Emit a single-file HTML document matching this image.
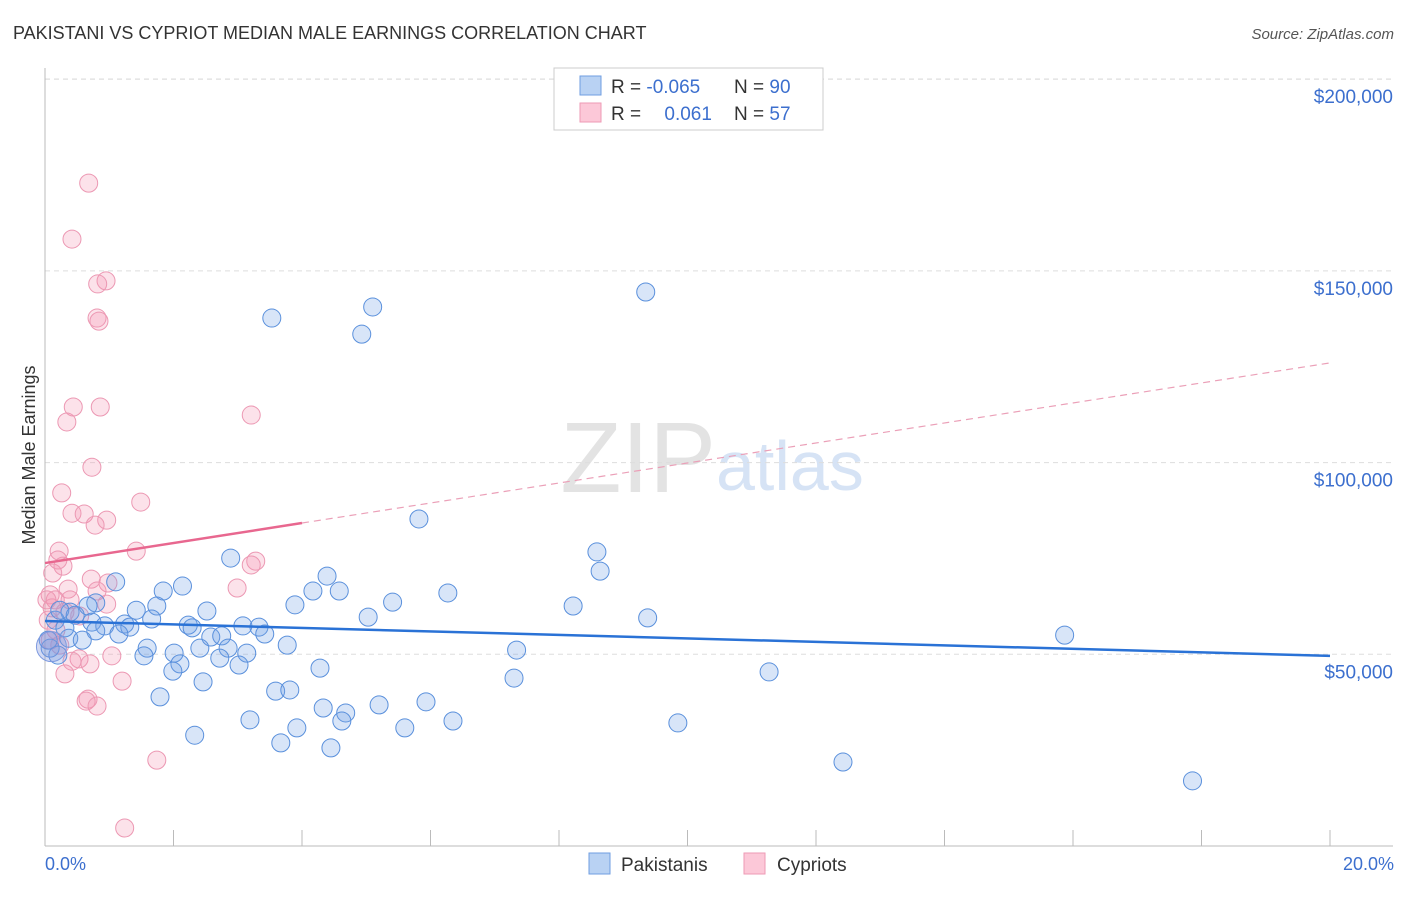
<!DOCTYPE html>
<html><head><meta charset="utf-8"><style>
body{margin:0;background:#fff;font-family:"Liberation Sans",sans-serif}
svg text{font-family:"Liberation Sans",sans-serif}
</style></head><body>
<svg id="c" width="1406" height="892">
<text x="13" y="39" font-size="18" fill="#333">PAKISTANI VS CYPRIOT MEDIAN MALE EARNINGS CORRELATION CHART</text>
<text x="1394" y="39" font-size="15" fill="#555" font-style="italic" text-anchor="end">Source: ZipAtlas.com</text>
<text x="716" y="492" font-size="100" fill="#e3e3e3" font-family="Liberation Serif" text-anchor="end">ZIP</text>
<text x="716" y="490" font-size="70" fill="#d6e3f5">atlas</text>
<g id="grid"></g><g id="pts"></g><g id="lines"></g>
<text x="35" y="455" font-size="18" fill="#333" text-anchor="middle" transform="rotate(-90 35 455)">Median Male Earnings</text>
<text x="45" y="870" font-size="18" fill="#3c6fce">0.0%</text>
<text x="1394" y="870" font-size="18" fill="#3c6fce" text-anchor="end">20.0%</text>
<g>
<rect x="554" y="68" width="269" height="62" fill="#fff" stroke="#ccc"/>
<rect x="580" y="76" width="21" height="19" fill="#b9d2f3" stroke="#6f9ee0"/>
<rect x="580" y="103" width="21" height="19" fill="#fcc8d8" stroke="#ee9ab5"/>
<text x="611" y="93" font-size="19" fill="#333">R = <tspan fill="#3c6fce">-0.065</tspan></text>
<text x="734" y="93" font-size="19" fill="#333">N = <tspan fill="#3c6fce">90</tspan></text>
<text x="611" y="120" font-size="19" fill="#333">R = <tspan fill="#3c6fce" dx="18">0.061</tspan></text>
<text x="734" y="120" font-size="19" fill="#333">N = <tspan fill="#3c6fce">57</tspan></text>
</g>
<g>
<rect x="589" y="853" width="21" height="21" fill="#b9d2f3" stroke="#6f9ee0"/>
<text x="621" y="871" font-size="19" fill="#333">Pakistanis</text>
<rect x="744" y="853" width="21" height="21" fill="#fcc8d8" stroke="#ee9ab5"/>
<text x="777" y="871" font-size="19" fill="#333">Cypriots</text>
</g>
</svg>
<script>
const yTicks=[50000,100000,150000,200000];
const yTickLabels=["$50,000","$100,000","$150,000","$200,000"];
const xTicks=[0,2,4,6,8,10,12,14,16,18,20];
const pakX=[9.35,5.10,3.53,4.93,5.82,8.59,8.64,2.89,4.39,1.10,2.14,1.84,4.17,4.58,6.27,5.41,3.89,8.22,1.74,2.52,1.42,0.79,0.67,0.39,5.03,9.38,1.66,0.73,0.93,1.24,1.32,2.23,2.29,3.08,3.33,3.42,1.15,0.79,15.87,2.58,2.75,0.37,3.77,2.41,2.85,7.34,1.59,2.01,3.14,2.72,1.54,2.10,3.02,1.99,4.28,11.27,7.30,2.46,1.79,3.59,3.81,5.93,5.20,4.33,4.68,4.62,6.35,3.19,3.92,5.60,9.85,2.33,3.67,4.45,12.42,17.86,0.08,0.16,0.23,0.31,0.05,0.20,0.47,0.58];
const pakY=[144.5,140.6,137.7,133.5,85.3,76.7,71.7,75.1,70.4,68.9,67.8,66.5,66.5,66.5,66.0,63.6,62.9,62.6,62.6,61.3,61.5,63.4,62.6,61.0,59.7,59.5,59.2,58.4,57.4,57.9,57.1,57.6,56.9,57.4,57.1,55.3,55.3,56.1,55.0,54.5,54.8,54.2,52.4,51.6,51.6,51.1,51.6,50.3,50.3,49.0,49.6,47.5,47.2,45.6,46.4,45.4,43.8,42.8,38.9,40.4,40.7,37.6,36.8,36.0,34.7,32.6,32.6,32.9,30.8,30.8,32.1,28.9,26.9,25.6,21.9,17.0,51.6,58.9,61.5,56.9,53.7,49.8,60.2,53.7];
const cypX=[0.68,0.42,0.95,0.82,0.81,0.84,0.44,0.86,3.21,0.34,0.73,0.26,1.49,0.42,0.61,0.96,0.78,1.42,0.22,0.20,0.28,3.28,3.21,0.12,0.72,0.98,2.99,0.36,0.81,0.08,0.16,0.39,0.96,0.11,0.31,0.54,0.05,0.17,0.23,1.04,0.53,0.42,0.70,0.31,1.20,0.67,0.64,0.81,1.74,1.24,0.08,0.03];
const cypY=[172.9,158.3,147.4,146.6,137.7,136.9,114.5,114.5,112.4,110.6,98.8,92.1,89.7,86.8,86.6,85.0,83.7,76.9,76.9,74.6,73.0,74.3,73.3,71.2,69.6,68.6,67.3,67.0,66.5,65.5,64.2,64.2,63.1,62.1,61.0,60.0,58.9,56.3,52.4,49.6,48.8,48.2,47.5,44.9,43.0,38.3,37.8,36.5,22.4,4.7,53.7,64.2];
const pakTrend=[58.7,49.6];
const cypTrend=[73.8,126.0];
const cypSolidEnd=4;
const X=v=>45+v/20*1285, Y=v=>846-v/50*191.7;
const NS="http://www.w3.org/2000/svg";
function mk(t,a,p){const e=document.createElementNS(NS,t);for(const k in a)e.setAttribute(k,a[k]);p.appendChild(e);return e;}
const g=document.getElementById('grid');
yTicks.forEach((t,i)=>{const y=Y(t/1000);
const l=mk('line',{x1:45,x2:1393,y1:y,y2:y,stroke:'#ddd','stroke-dasharray':'5,4'},g);


const tx=mk('text',{x:1393,y:y+24,'font-size':19,fill:'#3c6fce','text-anchor':'end'},g);tx.textContent=yTickLabels[i];

});
mk('line',{x1:45,x2:1393,y1:79,y2:79,stroke:'#ddd','stroke-dasharray':'5,4'},g);
mk('line',{x1:45,x2:45,y1:68,y2:846,stroke:'#bbb'},g);
mk('line',{x1:45,x2:1393,y1:846,y2:846,stroke:'#bbb'},g);
xTicks.forEach(t=>{const l=mk('line',{x1:X(t),x2:X(t),y1:830,y2:846,stroke:'#bbb'},g);

});
const p=document.getElementById('pts');
function dots(xs,ys,fill,stroke,name){xs.forEach((x,i)=>{const c=mk('circle',{cx:X(x),cy:Y(ys[i]),r:9,fill:fill,stroke:stroke,'stroke-width':1},p);

});}
dots(cypX,cypY,'rgba(244,150,180,0.28)','#ec98b3','cypriot-point');
dots(pakX,pakY,'rgba(110,160,230,0.27)','#5a90dc','pakistani-point');
const big=mk('circle',{cx:X(0.1),cy:Y(52),r:15,fill:'rgba(130,150,220,0.35)',stroke:'#7f9be0'},p);


const L=document.getElementById('lines');
const pl=mk('line',{x1:X(0),y1:Y(pakTrend[0]),x2:X(20),y2:Y(pakTrend[1]),stroke:'#2a72d6','stroke-width':2.5},L);


const cm=cypTrend[0]+(cypTrend[1]-cypTrend[0])*cypSolidEnd/20;
const cs=mk('line',{x1:X(0),y1:Y(cypTrend[0]),x2:X(cypSolidEnd),y2:Y(cm),stroke:'#e8678f','stroke-width':2.5},L);


const cd=mk('line',{x1:X(cypSolidEnd),y1:Y(cm),x2:X(20),y2:Y(cypTrend[1]),stroke:'#eba0b8','stroke-width':1.2,'stroke-dasharray':'7,5'},L);


</script>
</body></html>
